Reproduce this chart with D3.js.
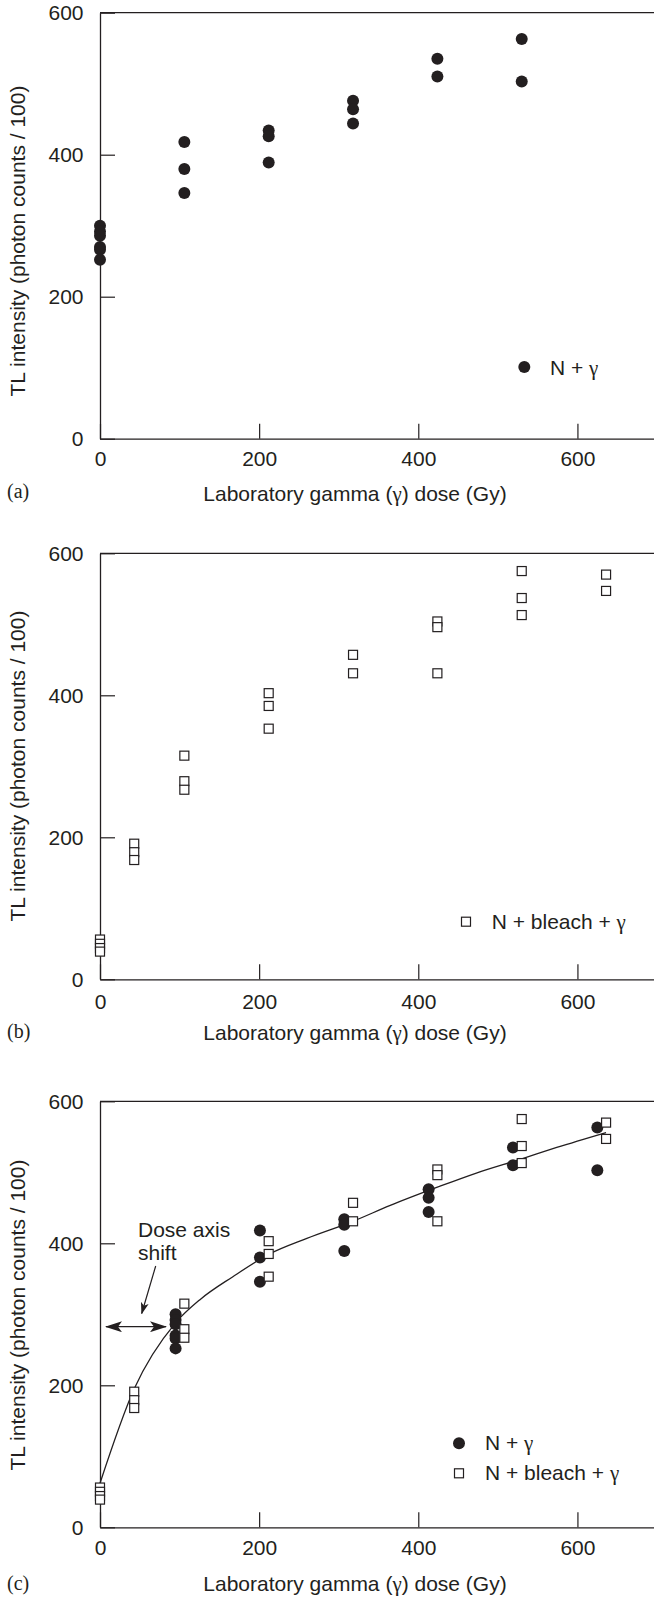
<!DOCTYPE html>
<html>
<head>
<meta charset="utf-8">
<script src="https://cdn.jsdelivr.net/npm/d3@7"></script>
<style>
body { margin: 0; background: #fff; }
text { font-family: "Liberation Sans", Arial, sans-serif; font-size: 21px; fill: #231f20; }
.panel-tag { font-family: "Liberation Serif", "Times New Roman", serif; font-size: 20px; }
.greek { font-family: "Liberation Serif", "Times New Roman", serif; }
</style>
</head>
<body>
<script>
// N + gamma: dose columns (Gy) and TL readings in each column
const gammaDose = [0, 106, 212, 318, 424, 530];
const gammaTL = [[300, 292, 286, 270, 266, 252], [418, 380, 346], [434, 426, 389], [476, 464, 444], [535, 510], [563, 503]];
// N + bleach + gamma
const bleachDose = [0, 43, 106, 212, 318, 424, 530, 636];
const bleachTL = [[56, 50, 44, 39], [191, 179, 168], [315, 279, 267], [403, 385, 353], [457, 431], [504, 496, 431], [575, 537, 513], [570, 547]];
// shift applied to the N + gamma doses in (c)
const doseShift = 95;
// growth curve drawn in (c)
const fitDose = [0, 43, 95, 126, 167, 213, 260, 318, 364, 424, 473, 530, 574, 636];
const fitTL = [62, 195, 288, 321, 353, 385, 407, 431, 453, 479, 499, 519, 535, 556];
const xTicks = [0, 200, 400, 600];
const yTicks = [0, 200, 400, 600];

const W = 654, H = 1597;
const ink = "#231f20";
const left = 100, right = 657, plotH = 426;

const svg = d3.select("body").append("svg")
    .attr("width", W)
    .attr("height", H);

const defs = svg.append("defs");
defs.append("marker")
    .attr("id", "head")
    .attr("markerUnits", "userSpaceOnUse")
    .attr("viewBox", "0 0 17 11")
    .attr("markerWidth", 17).attr("markerHeight", 11)
    .attr("refX", 16).attr("refY", 5.5)
    .attr("orient", "auto-start-reverse")
    .append("path").attr("d", "M0,0 L17,5.5 L0,11 L4,5.5 Z").attr("fill", ink);
defs.append("marker")
    .attr("id", "headSmall")
    .attr("markerUnits", "userSpaceOnUse")
    .attr("viewBox", "0 0 12 8")
    .attr("markerWidth", 12).attr("markerHeight", 8)
    .attr("refX", 11).attr("refY", 4)
    .attr("orient", "auto")
    .append("path").attr("d", "M0,0 L12,4 L0,8 L3,4 Z").attr("fill", ink);

const x = d3.scaleLinear().domain([0, 700]).range([left, right]);

const panels = [
    {tag: "(a)", top: 12.7, pad: 12, titleY: 501, tagY: 498, labelY: 241, gamma: true, bleach: false},
    {tag: "(b)", top: 553.3, pad: 15, titleY: 1040, tagY: 1038, labelY: 766, gamma: false, bleach: true},
    {tag: "(c)", top: 1101.3, pad: 13, titleY: 1591, tagY: 1590, labelY: 1315, gamma: true, bleach: true, fit: true}
];

// text with a serif gamma, like the printed figure
function gammaText(sel, before, after) {
    sel.append("tspan").text(before);
    sel.append("tspan").attr("class", "greek").text("\u03b3");
    if (after) sel.append("tspan").text(after);
    return sel;
}

function dots(g, y, shift) {
    gammaDose.forEach(function (d, i) {
        g.selectAll(null)
            .data(gammaTL[i]).enter()
            .append("circle")
            .attr("cx", x(d + shift))
            .attr("cy", v => y(v))
            .attr("r", 6)
            .attr("fill", ink);
    });
}

function squares(g, y) {
    bleachDose.forEach(function (d, i) {
        g.selectAll(null)
            .data(bleachTL[i]).enter()
            .append("rect")
            .attr("x", x(d) - 4.5)
            .attr("y", v => y(v) - 4.5)
            .attr("width", 9).attr("height", 9)
            .attr("fill", "#fff")
            .attr("stroke", ink)
            .attr("stroke-width", 1.2);
    });
}

panels.forEach(function (p) {
    const bottom = p.top + plotH;
    const y = d3.scaleLinear().domain([0, 600]).range([bottom, p.top]);
    const g = svg.append("g");

    // frame: top edge (the right edge is outside the page)
    g.append("line")
        .attr("x1", left).attr("x2", right)
        .attr("y1", p.top).attr("y2", p.top)
        .attr("stroke", ink).attr("stroke-width", 1.3);

    const xa = g.append("g")
        .attr("transform", "translate(0," + bottom + ")")
        .call(d3.axisBottom(x).tickValues(xTicks).tickSizeInner(-15).tickSizeOuter(0).tickPadding(p.pad));
    const ya = g.append("g")
        .attr("transform", "translate(" + left + ",0)")
        .call(d3.axisLeft(y).tickValues(yTicks).tickSizeInner(-15).tickSizeOuter(0).tickPadding(16.5));
    [xa, ya].forEach(function (a) {
        a.attr("font-size", null).attr("font-family", null);
        a.select(".domain").attr("stroke", ink).attr("stroke-width", 1.3);
        a.selectAll(".tick line").attr("stroke", ink).attr("stroke-width", 1.2);
        a.selectAll(".tick text").attr("fill", ink);
    });

    gammaText(g.append("text")
        .attr("x", 355).attr("y", p.titleY)
        .attr("text-anchor", "middle"), "Laboratory gamma (", ") dose (Gy)");
    g.append("text")
        .attr("class", "panel-tag")
        .attr("x", 7).attr("y", p.tagY)
        .text(p.tag);
    g.append("text")
        .attr("transform", "translate(25," + p.labelY + ") rotate(-90)")
        .attr("text-anchor", "middle")
        .text("TL intensity (photon counts / 100)");

    if (p.fit) {
        const line = d3.line()
            .x((d, i) => x(d))
            .y((d, i) => y(fitTL[i]))
            .curve(d3.curveMonotoneX);
        g.append("path")
            .attr("d", line(fitDose))
            .attr("fill", "none")
            .attr("stroke", ink)
            .attr("stroke-width", 1.3);
    }
    if (p.gamma) dots(g, y, p.fit ? doseShift : 0);
    if (p.bleach) squares(g, y);
});

// legends
svg.append("circle").attr("cx", 524.3).attr("cy", 367).attr("r", 6).attr("fill", ink);
gammaText(svg.append("text").attr("x", 550).attr("y", 374.7), "N + ");

svg.append("rect").attr("x", 461.5).attr("y", 917.2).attr("width", 9).attr("height", 9)
    .attr("fill", "#fff").attr("stroke", ink).attr("stroke-width", 1.2);
gammaText(svg.append("text").attr("x", 491.7).attr("y", 929), "N + bleach + ");

svg.append("circle").attr("cx", 459).attr("cy", 1443.3).attr("r", 6).attr("fill", ink);
gammaText(svg.append("text").attr("x", 485).attr("y", 1450), "N + ");
svg.append("rect").attr("x", 454.5).attr("y", 1468.8).attr("width", 9).attr("height", 9)
    .attr("fill", "#fff").attr("stroke", ink).attr("stroke-width", 1.2);
gammaText(svg.append("text").attr("x", 485).attr("y", 1480), "N + bleach + ");

// dose axis shift annotation in (c)
svg.append("text").attr("x", 138).attr("y", 1237).text("Dose axis");
svg.append("text").attr("x", 138).attr("y", 1259.5).text("shift");
svg.append("line")
    .attr("x1", 155.7).attr("y1", 1266).attr("x2", 141.7).attr("y2", 1313.5)
    .attr("stroke", ink).attr("stroke-width", 1.2)
    .attr("marker-end", "url(#headSmall)");
svg.append("line")
    .attr("x1", 106).attr("y1", 1326.7).attr("x2", 166).attr("y2", 1326.7)
    .attr("stroke", ink).attr("stroke-width", 1.3)
    .attr("marker-start", "url(#head)")
    .attr("marker-end", "url(#head)");
</script>
</body>
</html>
